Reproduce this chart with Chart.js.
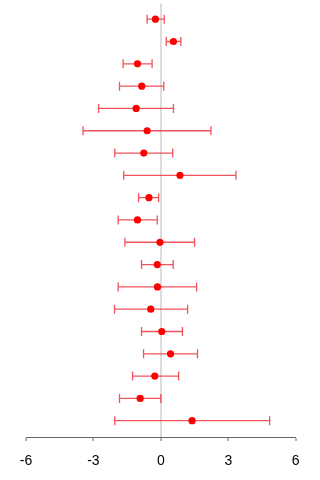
<!DOCTYPE html>
<html>
<head>
<meta charset="utf-8">
<script src="https://cdn.jsdelivr.net/npm/chart.js@4/dist/chart.umd.min.js"></script>
<style>
  html, body { margin: 0; padding: 0; background: #fff; }
  #wrap { width: 320px; height: 480px; }
</style>
</head>
<body>
<div id="wrap"><canvas id="forest" width="320" height="480"></canvas></div>
<script>
// Study rows, top to bottom
const rows = [1, 2, 3, 4, 5, 6, 7, 8, 9, 10, 11, 12, 13, 14, 15, 16, 17, 18, 19];
// Point estimates
const estimates = [-0.24, 0.56, -1.04, -0.85, -1.10, -0.61, -0.76, 0.85, -0.53, -1.04,
                   -0.04, -0.16, -0.15, -0.45, 0.04, 0.43, -0.27, -0.92, 1.39];
// Lower and upper interval bounds
const lower = [-0.61, 0.24, -1.68, -1.84, -2.77, -3.46, -2.05, -1.65, -0.99, -1.90,
               -1.60, -0.86, -1.90, -2.06, -0.86, -0.77, -1.26, -1.84, -2.05];
const upper = [0.15, 0.89, -0.39, 0.13, 0.56, 2.23, 0.53, 3.34, -0.10, -0.16,
               1.50, 0.55, 1.59, 1.19, 0.96, 1.63, 0.79, 0.00, 4.84];
// X axis tick labels
const xTicks = [-6, -3, 0, 3, 6];

const points = rows.map((r, i) => ({ x: estimates[i], y: r, lo: lower[i], hi: upper[i] }));

// Draws the interval whiskers with end caps beneath the point markers
const whiskers = {
  id: 'whiskers',
  beforeDatasetsDraw(chart) {
    const { ctx, scales: { x, y } } = chart;
    const cap = 4.5;
    ctx.save();
    ctx.strokeStyle = 'rgba(238, 40, 50, 0.8)';
    ctx.lineWidth = 1.3;
    points.forEach(p => {
      const py = y.getPixelForValue(p.y);
      const x0 = x.getPixelForValue(p.lo);
      const x1 = x.getPixelForValue(p.hi);
      ctx.beginPath();
      ctx.moveTo(x0, py); ctx.lineTo(x1, py);
      ctx.moveTo(x0, py - cap); ctx.lineTo(x0, py + cap);
      ctx.moveTo(x1, py - cap); ctx.lineTo(x1, py + cap);
      ctx.stroke();
    });
    ctx.restore();
  }
};

new Chart(document.getElementById('forest'), {
  type: 'scatter',
  data: {
    datasets: [{
      data: points,
      backgroundColor: '#ff0000',
      borderColor: '#ff0000',
      pointRadius: 3.6,
      pointHoverRadius: 3.6,
      borderWidth: 0
    }]
  },
  options: {
    responsive: false,
    animation: false,
    events: [],
    layout: { padding: { left: 26, right: 24.3, top: 0, bottom: 0 } },
    plugins: { legend: { display: false }, tooltip: { enabled: false } },
    scales: {
      x: {
        type: 'linear',
        min: xTicks[0],
        max: xTicks[xTicks.length - 1],
        afterBuildTicks(scale) { scale.ticks = xTicks.map(v => ({ value: v })); },
        afterFit(scale) { scale.height = 43; },
        border: { display: true, color: '#666', width: 1 },
        grid: {
          drawOnChartArea: true,
          drawTicks: true,
          tickLength: 4,
          tickColor: '#666',
          tickWidth: 1,
          color: c => (c.tick && c.tick.value === 0 ? '#dcdcdc' : 'rgba(0,0,0,0)'),
          lineWidth: c => (c.tick && c.tick.value === 0 ? 2 : 0)
        },
        ticks: {
          padding: 11.5,
          color: '#000',
          maxRotation: 0,
          font: { family: '"Liberation Sans", Arial, sans-serif', size: 14 },
          callback: v => String(v)
        }
      },
      y: {
        type: 'linear',
        display: false,
        reverse: true,
        min: 0.3,
        max: 19.73
      }
    }
  },
  plugins: [whiskers]
});
</script>
</body>
</html>
